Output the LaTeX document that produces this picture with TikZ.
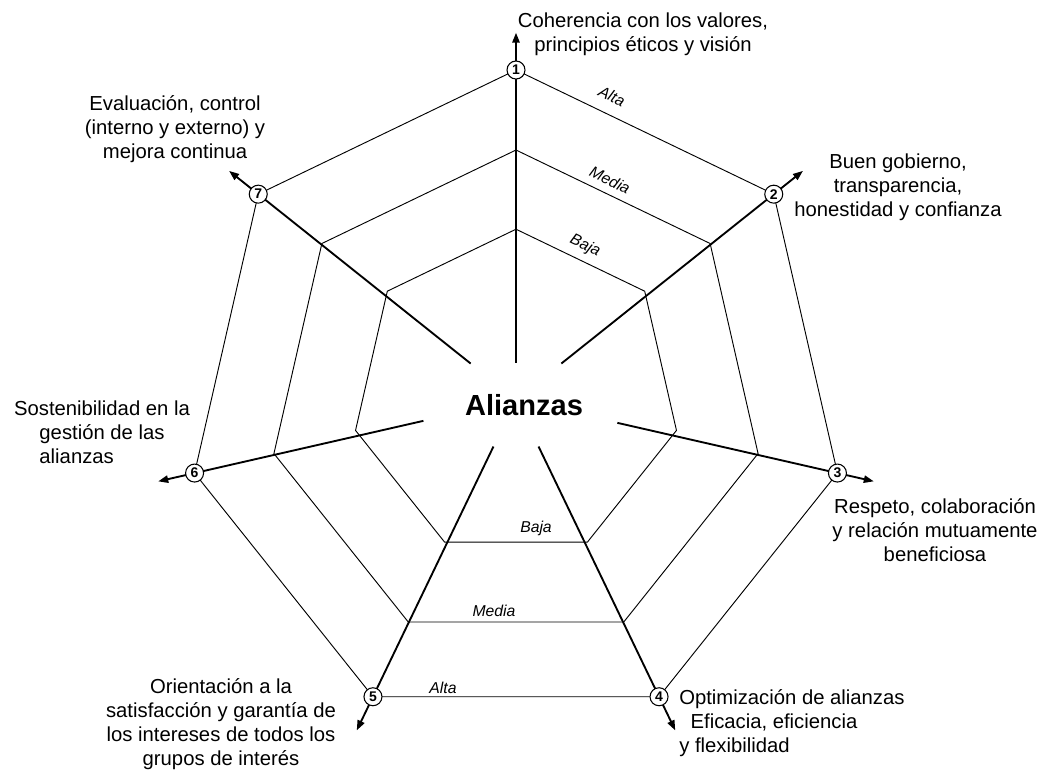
\documentclass[tikz,border=0pt]{standalone}
\usepackage{fontspec}
\usepackage{calc}
\setmainfont{Liberation Sans}
\usetikzlibrary{arrows.meta,calc}
\begin{document}
\begin{tikzpicture}[x=0.75pt,y=-0.75pt,
  ring/.style={draw=black, line width=0.7pt, line join=miter},
  axis/.style={draw=black, line width=1.4pt, -{Triangle[length=7.5pt,width=5.5pt]}},
  vertexmark/.style={circle, draw=black, fill=white, line width=0.8pt,
    minimum size=13.5pt, inner sep=0pt, font=\fontsize{10.5}{10.5}\selectfont\bfseries},
  levellabel/.style={font=\fontsize{11.8}{12}\selectfont\itshape, inner sep=0pt},
  criterion/.style={font=\fontsize{15.2}{18}\selectfont, inner sep=0pt, align=center},
]
\useasboundingbox (0,0) rectangle (1042,769);

% corner points of the three levels (outer = Alta, middle = Media, inner = Baja)
\foreach \k in {1,...,7} {
  \pgfmathsetmacro\a{90-(\k-1)*360/7}
  \coordinate (o\k) at ({516+329.7*cos(\a)},{399.7-329.7*sin(\a)});
  \coordinate (m\k) at ({516+248.3*cos(\a)},{398.3-248.3*sin(\a)});
  \coordinate (i\k) at ({516+164.6*cos(\a)},{393.8-164.6*sin(\a)});
}

\draw[ring] (o1) -- (o2) -- (o3) -- (o4) -- (o5) -- (o6) -- (o7) -- cycle;
\draw[ring] (m1) -- (m2) -- (m3) -- (m4) -- (m5) -- (m6) -- (m7) -- cycle;
\draw[ring] (i1) -- (i2) -- (i3) -- (i4) -- (i5) -- (i6) -- (i7) -- cycle;

% axes, starting just outside the central title
\foreach \k/\rs in {1/37,2/58,3/104,4/52,5/52,6/95,7/58} {
  \pgfmathsetmacro\a{90-(\k-1)*360/7}
  \coordinate (s\k) at ({516+\rs*cos(\a)},{399.7-\rs*sin(\a)});
  \coordinate (t\k) at ({516+367*cos(\a)},{399.7-367*sin(\a)});
}
\foreach \k in {1,...,7} \draw[axis] (s\k) -- (t\k);

% numbered markers on the outer level
\foreach \k in {1,...,7} \node[vertexmark] (v\k) at (o\k) {\k};

\node[font=\fontsize{21.8}{22}\selectfont\bfseries, inner sep=0pt] (alianzas) at (524,405) {Alianzas};

% level names
\node[levellabel, rotate=-25.7] (la1) at (612,96) {Alta};
\node[levellabel, rotate=-25.7] (lm1) at (610,180) {Media};
\node[levellabel, rotate=-25.7] (lb1) at (585,246) {Baja};
\node[levellabel] (lb2) at (536,528) {Baja};
\node[levellabel] (lm2) at (494,611) {Media};
\node[levellabel] (la2) at (443,688) {Alta};

% criteria
\node[criterion] (c1) at (643,34) {Coherencia con los valores,\\principios éticos y visión};
\node[criterion] (c2) at (898,187) {Buen gobierno,\\transparencia,\\honestidad y confianza};
\node[criterion] (c3) at (935,530) {Respeto, colaboración\\y relación mutuamente\\beneficiosa};
\node[criterion, align=left, anchor=west] (c4) at (679,723) {Optimización de alianzas\\\hspace*{8.5pt}Eficacia, eficiencia\\y flexibilidad};
\node[criterion] (c5) at (221,724) {Orientación a la\\satisfacción y garantía de\\los intereses de todos los\\grupos de interés};
\node[criterion] (c6) at (102,432) {Sostenibilidad en la\\gestión de las\\\makebox[\widthof{gestión de las}][l]{alianzas}};
\node[criterion] (c7) at (175,129) {Evaluación, control\\(interno y externo) y\\mejora continua};
\end{tikzpicture}
\end{document}
